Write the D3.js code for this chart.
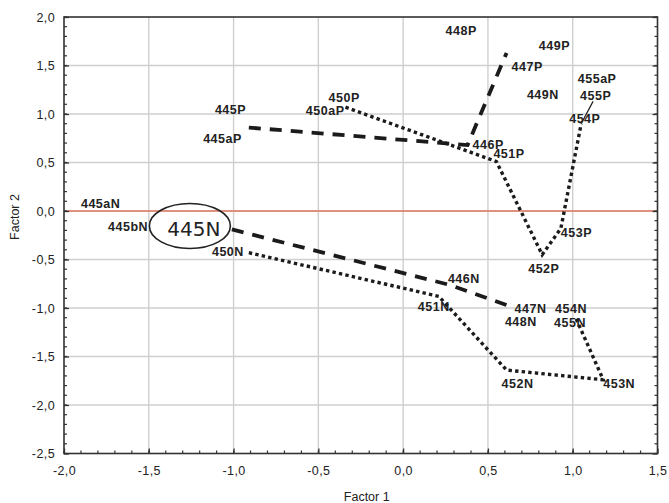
<!DOCTYPE html>
<html>
<head>
<meta charset="utf-8">
<script src="https://cdn.jsdelivr.net/npm/d3@7"></script>
<style>
  html, body { margin: 0; padding: 0; background: #fff; }
  svg { display: block; }
</style>
</head>
<body>
<svg id="chart" width="669" height="503"></svg>
<script>
// Sample scores on the first two factors
const pointLabels = ["445P", "445aP", "446P", "447P", "448P", "449P", "449N", "450P", "450aP",
  "451P", "452P", "453P", "454P", "455P", "455aP",
  "445aN", "445bN", "445N", "446N", "447N", "448N", "450N", "451N", "452N", "453N", "454N", "455N"];
const factor1 = [-1.11, -0.91, 0.38, 0.61, 0.25, 0.80, 0.73, -0.44, -0.34,
  0.55, 0.82, 0.93, 1.05, 1.12, 1.03,
  -1.90, -1.74, -1.01, 0.27, 0.61, 0.60, -0.91, 0.21, 0.61, 1.18, 1.02, 1.02];
const factor2 = [1.04, 0.86, 0.68, 1.63, 1.86, 1.70, 1.20, 1.17, 1.07,
  0.51, -0.45, -0.18, 0.90, 1.13, 1.36,
  0.07, -0.16, -0.19, -0.76, -0.97, -1.14, -0.43, -0.88, -1.64, -1.74, -1.11, -1.11];

// Sample sequences joined by lines
const dashedSeqP = ["445aP", "446P", "447P"];
const dottedSeqP = ["450aP", "451P", "452P", "453P", "454P"];
const leaderSeq = ["454P", "455P"];
const dashedSeqN = ["445N", "446N", "447N"];
const dottedSeqN = ["450N", "451N", "452N", "453N", "454N"];
const highlighted = "445N";

// Axis ticks
const xTicks = [-2.0, -1.5, -1.0, -0.5, 0.0, 0.5, 1.0, 1.5];
const yTicks = [-2.5, -2.0, -1.5, -1.0, -0.5, 0.0, 0.5, 1.0, 1.5, 2.0];
const xTitle = "Factor 1";
const yTitle = "Factor 2";

// Label placement relative to each point: [dx, dy, anchor]
const labelPlacement = {
  "445aP": [-7, 15, "end"], "446P": [5, 4], "447P": [5, 18], "450aP": [-1, 8, "end"],
  "451P": [-3, -4], "452P": [-14, 18], "453P": [0, 9], "454P": [-12, -1], "455P": [-13, -1],
  "446N": [-1, -2], "447N": [8, 8], "450N": [-5, 3, "end"], "451N": [11, 15, "end"],
  "452N": [-5, 18], "453N": [0, 8], "454N": [-21, -6], "455N": [-22, 8]
};

const points = pointLabels.map((name, i) => ({ name, f1: factor1[i], f2: factor2[i] }));
const byName = new Map(points.map(p => [p.name, p]));

const width = 669, height = 503;
const margin = { top: 17, right: 11.5, bottom: 49.5, left: 64 };
const svg = d3.select("#chart");

const x = d3.scaleLinear().domain([-2.0, 1.5]).range([margin.left, width - margin.right]);
const y = d3.scaleLinear().domain([-2.5, 2.0]).range([height - margin.bottom, margin.top]);

const locale = d3.formatLocale({ decimal: ",", thousands: ".", grouping: [3], currency: ["", ""], minus: "-" });
const fmt = locale.format(".1f");

// Grid
const grid = svg.append("g").attr("stroke", "#cfcfcf").attr("stroke-width", 1.4);
grid.selectAll("line.gx").data(xTicks.slice(1, -1)).join("line")
  .attr("x1", d => x(d)).attr("x2", d => x(d))
  .attr("y1", y(2.0)).attr("y2", y(-2.5));
grid.selectAll("line.gy").data(yTicks.slice(1, -1)).join("line")
  .attr("x1", x(-2.0)).attr("x2", x(1.5))
  .attr("y1", d => y(d)).attr("y2", d => y(d));

// Zero reference line
svg.append("line")
  .attr("x1", x(-2.0)).attr("x2", x(1.5))
  .attr("y1", y(0)).attr("y2", y(0))
  .attr("stroke", "#e2785f").attr("stroke-width", 1.6);

// Axes with inward ticks
const minorX = x.ticks(35);
const minorY = y.ticks(45);
const axisColor = "#333";
const tickFont = "Liberation Sans, Arial, sans-serif";

const gxAxis = svg.append("g").attr("transform", `translate(0,${y(-2.5)})`)
  .call(d3.axisBottom(x).tickValues(xTicks).tickFormat(fmt).tickSizeInner(-5).tickSizeOuter(0).tickPadding(13));
const gyAxis = svg.append("g").attr("transform", `translate(${x(-2.0)},0)`)
  .call(d3.axisLeft(y).tickValues(yTicks).tickFormat(fmt).tickSizeInner(-5).tickSizeOuter(0).tickPadding(9));
const gyRight = svg.append("g").attr("transform", `translate(${x(1.5)},0)`)
  .call(d3.axisRight(y).tickValues(yTicks).tickFormat("").tickSizeInner(-5).tickSizeOuter(0));

[gxAxis, gyAxis, gyRight].forEach(g => {
  g.select(".domain").remove();
  g.selectAll(".tick line").attr("stroke", axisColor).attr("stroke-width", 1.3);
  g.selectAll("text").attr("fill", "#222").style("font-family", tickFont)
    .style("font-size", "12.5px").style("letter-spacing", "0.4px");
});

// Minor ticks
const minor = svg.append("g").attr("stroke", axisColor).attr("stroke-width", 1.2);
minor.selectAll("line.mx").data(minorX).join("line")
  .attr("x1", d => x(d)).attr("x2", d => x(d))
  .attr("y1", y(-2.5)).attr("y2", y(-2.5) - 3);
minor.selectAll("line.ml").data(minorY).join("line")
  .attr("x1", x(-2.0)).attr("x2", x(-2.0) + 3)
  .attr("y1", d => y(d)).attr("y2", d => y(d));
minor.selectAll("line.mr").data(minorY).join("line")
  .attr("x1", x(1.5)).attr("x2", x(1.5) - 3)
  .attr("y1", d => y(d)).attr("y2", d => y(d));

// Frame
svg.append("rect")
  .attr("x", x(-2.0)).attr("y", y(2.0))
  .attr("width", x(1.5) - x(-2.0)).attr("height", y(-2.5) - y(2.0))
  .attr("fill", "none").attr("stroke", axisColor).attr("stroke-width", 1.6);

// Axis titles
svg.append("text")
  .attr("x", margin.left + (width - margin.left - margin.right) / 2 + 6)
  .attr("y", 501)
  .attr("text-anchor", "middle")
  .style("font-family", tickFont).style("font-size", "12.5px").attr("fill", "#222")
  .text(xTitle);
svg.append("text")
  .attr("transform", `translate(19,${y(0) + 6}) rotate(-90)`)
  .attr("text-anchor", "middle")
  .style("font-family", tickFont).style("font-size", "12.5px").attr("fill", "#222")
  .text(yTitle);

// Connecting lines
const line = d3.line().x(d => x(d.f1)).y(d => y(d.f2));
const seq = names => names.map(n => byName.get(n));
const lines = svg.append("g").attr("fill", "none").attr("stroke", "#1b1b1b");

[dashedSeqP, dashedSeqN].forEach(s => lines.append("path")
  .attr("d", line(seq(s)))
  .attr("stroke-width", 3.8).attr("stroke-dasharray", "12,9"));
[dottedSeqP, dottedSeqN].forEach(s => lines.append("path")
  .attr("d", line(seq(s)))
  .attr("stroke-width", 3.4).attr("stroke-dasharray", "3.4,3.2"));
lines.append("path").attr("d", line(seq(leaderSeq))).attr("stroke-width", 1.2);

// Point labels
const labels = svg.append("g")
  .style("font-family", tickFont).style("font-size", "12.5px").style("font-weight", "bold")
  .style("letter-spacing", "0.5px").attr("fill", "#222");
labels.selectAll("text").data(points.filter(p => p.name !== highlighted)).join("text")
  .attr("x", d => x(d.f1) + (labelPlacement[d.name] || [0, 4])[0])
  .attr("y", d => y(d.f2) + (labelPlacement[d.name] || [0, 4])[1])
  .attr("text-anchor", d => (labelPlacement[d.name] || [])[2] || "start")
  .text(d => d.name);

// Highlighted sample in an ellipse
const hp = byName.get(highlighted);
svg.append("ellipse")
  .attr("cx", x(hp.f1) - 42).attr("cy", y(hp.f2) - 3.5)
  .attr("rx", 40.5).attr("ry", 22.5)
  .attr("fill", "none").attr("stroke", "#222").attr("stroke-width", 1.6);
svg.append("text")
  .attr("x", x(hp.f1) - 38).attr("y", y(hp.f2) + 7)
  .attr("text-anchor", "middle")
  .style("font-family", "DejaVu Sans, sans-serif").style("font-size", "20px").attr("fill", "#222")
  .text(hp.name);
</script>
</body>
</html>
